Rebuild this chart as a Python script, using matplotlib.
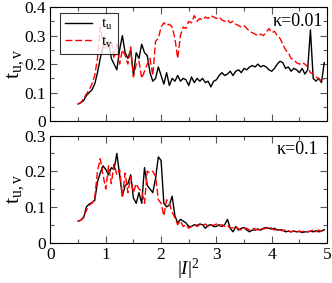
import numpy as np
import matplotlib
matplotlib.use('Agg')
import matplotlib.pyplot as plt
from matplotlib.ticker import MultipleLocator

plt.rcParams['font.family'] = ['Liberation Serif', 'DejaVu Serif']
plt.rcParams['mathtext.fontset'] = 'custom'
plt.rcParams['mathtext.rm'] = 'Liberation Serif'
plt.rcParams['mathtext.it'] = 'Liberation Serif:italic'

# |I|^2 grid
x = np.round(np.arange(0.5, 4.96, 0.05), 2)

# kappa = 0.01
tu_a = [0.060, 0.065, 0.072, 0.090, 0.100, 0.110, 0.130, 0.170, 0.220, 0.260,
        0.270, 0.280, 0.220, 0.200, 0.180, 0.250, 0.300, 0.240, 0.220, 0.250,
        0.160, 0.240, 0.220, 0.270, 0.240, 0.230, 0.170, 0.140, 0.150, 0.190,
        0.160, 0.130, 0.170, 0.125, 0.150, 0.140, 0.160, 0.140, 0.150, 0.145,
        0.125, 0.155, 0.135, 0.150, 0.140, 0.150, 0.135, 0.140, 0.120, 0.140,
        0.145, 0.160, 0.170, 0.160, 0.165, 0.175, 0.160, 0.175, 0.180, 0.170,
        0.185, 0.180, 0.190, 0.195, 0.190, 0.200, 0.190, 0.195, 0.190, 0.180,
        0.175, 0.185, 0.200, 0.210, 0.205, 0.185, 0.190, 0.175, 0.185, 0.180,
        0.170, 0.185, 0.165, 0.180, 0.320, 0.150, 0.140, 0.150, 0.135, 0.205]
tv_a = [0.060, 0.065, 0.080, 0.095, 0.110, 0.130, 0.160, 0.220, 0.330, 0.270,
        0.250, 0.270, 0.280, 0.220, 0.270, 0.200, 0.250, 0.230, 0.200, 0.260,
        0.155, 0.200, 0.210, 0.150, 0.175, 0.200, 0.220, 0.160, 0.280, 0.290,
        0.330, 0.345, 0.335, 0.340, 0.330, 0.290, 0.220, 0.300, 0.330, 0.325,
        0.350, 0.345, 0.370, 0.350, 0.360, 0.355, 0.365, 0.360, 0.370, 0.365,
        0.360, 0.365, 0.355, 0.350, 0.355, 0.345, 0.350, 0.340, 0.335, 0.330,
        0.335, 0.325, 0.315, 0.310, 0.305, 0.300, 0.305, 0.300, 0.310, 0.325,
        0.310, 0.315, 0.300, 0.290, 0.270, 0.250, 0.240, 0.220, 0.215, 0.205,
        0.200, 0.205, 0.200, 0.190, 0.170, 0.165, 0.155, 0.150, 0.140, 0.150]

# kappa = 0.1
tu_b = [0.060, 0.063, 0.070, 0.100, 0.108, 0.112, 0.118, 0.170, 0.195, 0.215,
        0.205, 0.190, 0.210, 0.205, 0.250, 0.190, 0.130, 0.160, 0.165, 0.190,
        0.125, 0.110, 0.140, 0.110, 0.210, 0.160, 0.150, 0.140, 0.180, 0.240,
        0.230, 0.110, 0.100, 0.105, 0.130, 0.075, 0.055, 0.065, 0.060, 0.055,
        0.045, 0.045, 0.050, 0.048, 0.052, 0.050, 0.040, 0.048, 0.050, 0.045,
        0.045, 0.050, 0.045, 0.050, 0.065, 0.040, 0.030, 0.045, 0.035, 0.040,
        0.042, 0.035, 0.030, 0.035, 0.035, 0.038, 0.035, 0.040, 0.042, 0.040,
        0.038, 0.040, 0.035, 0.036, 0.035, 0.030, 0.032, 0.030, 0.032, 0.030,
        0.031, 0.028, 0.030, 0.030, 0.032, 0.030, 0.033, 0.030, 0.032, 0.036]
tv_b = [0.060, 0.063, 0.072, 0.090, 0.105, 0.110, 0.125, 0.200, 0.235, 0.190,
        0.150, 0.215, 0.165, 0.220, 0.190, 0.205, 0.130, 0.195, 0.140, 0.185,
        0.140, 0.165, 0.150, 0.145, 0.110, 0.200, 0.195, 0.200, 0.185, 0.120,
        0.110, 0.075, 0.120, 0.110, 0.085, 0.070, 0.050, 0.060, 0.045, 0.050,
        0.040, 0.045, 0.050, 0.045, 0.050, 0.048, 0.052, 0.045, 0.050, 0.048,
        0.052, 0.045, 0.050, 0.045, 0.048, 0.040, 0.042, 0.045, 0.038, 0.035,
        0.040, 0.040, 0.035, 0.040, 0.038, 0.035, 0.040, 0.038, 0.040, 0.045,
        0.040, 0.035, 0.038, 0.035, 0.033, 0.035, 0.033, 0.030, 0.033, 0.030,
        0.032, 0.030, 0.033, 0.030, 0.032, 0.035, 0.030, 0.035, 0.030, 0.035]

fig = plt.figure(figsize=(3.32, 2.83), dpi=100)
ax1 = fig.add_axes([0.152, 0.572, 0.833, 0.403])
ax2 = fig.add_axes([0.152, 0.143, 0.833, 0.378])

ax1.plot(x, tu_a, color='black', lw=1.0, label=r'$\mathrm{t}_\mathrm{u}$')
ax1.plot(x, tv_a, color='red', lw=1.0, ls=(0, (5, 2)), label=r'$\mathrm{t}_\mathrm{v}$')
ax2.plot(x, tu_b, color='black', lw=1.0)
ax2.plot(x, tv_b, color='red', lw=1.0, ls=(0, (5, 2)))

for ax, ymax in ((ax1, 0.4), (ax2, 0.3)):
    ax.set_xlim(0, 5)
    ax.set_ylim(0, ymax)
    ax.xaxis.set_major_locator(MultipleLocator(1))
    ax.xaxis.set_minor_locator(MultipleLocator(0.5))
    ax.yaxis.set_major_locator(MultipleLocator(0.1))
    ax.yaxis.set_minor_locator(MultipleLocator(0.05))
    ax.tick_params(which='both', direction='in', top=True, right=True, labelsize=12.5)
    ax.tick_params(axis='x', pad=3)
    ax.tick_params(axis='y', pad=3)
    ax.tick_params(which='major', length=5, width=0.8, color='#555555')
    ax.tick_params(which='minor', length=3, width=0.8, color='#555555')
    ax.set_ylabel(r'$\mathrm{t}_\mathrm{u,v}$', fontsize=16)
    ax.yaxis.set_label_coords(-0.088, 0.5)
    ax.yaxis.set_major_formatter(plt.FuncFormatter(lambda v, p: '0' if v == 0 else f'{v:.1f}'))
    for s in ax.spines.values():
        s.set_linewidth(0.8)

ax1.tick_params(labelbottom=False)
ax2.set_xlabel(r'$|I|^{2}$', fontsize=14, labelpad=-4)

ax1.text(0.985, 0.87, 'κ=0.01', transform=ax1.transAxes, ha='right', va='center', fontsize=13)
ax2.text(0.97, 0.87, 'κ=0.1', transform=ax2.transAxes, ha='right', va='center', fontsize=13)

leg = ax1.legend(loc='upper left', bbox_to_anchor=(0.035, 0.95), fontsize=11, frameon=True,
                 fancybox=False, edgecolor='black', handlelength=1.8, borderpad=0.3,
                 labelspacing=0.15, handletextpad=0.6, borderaxespad=0)
leg.get_frame().set_linewidth(0.8)

fig.savefig('out.png', dpi=100)
